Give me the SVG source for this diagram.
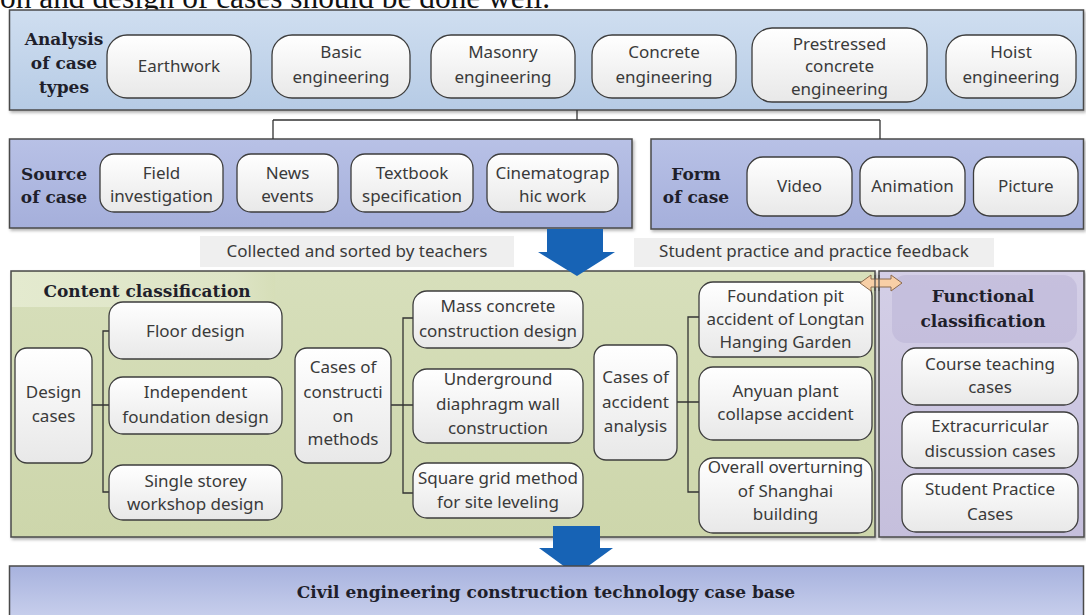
<svg xmlns="http://www.w3.org/2000/svg" width="1086" height="615" viewBox="0 0 1086 615">
<defs>
<linearGradient id="gPill" x1="0" y1="0" x2="0" y2="1"><stop offset="0" stop-color="#ffffff"/><stop offset="1" stop-color="#e8e8e8"/></linearGradient>
<linearGradient id="gTop" x1="0" y1="0" x2="0" y2="1"><stop offset="0" stop-color="#cfdef0"/><stop offset="1" stop-color="#b6cbe5"/></linearGradient>
<linearGradient id="gMid" x1="0" y1="0" x2="0" y2="1"><stop offset="0" stop-color="#b8c1e6"/><stop offset="1" stop-color="#a5afdb"/></linearGradient>
<linearGradient id="gGreen" x1="0" y1="0" x2="0" y2="1"><stop offset="0" stop-color="#d7dfbb"/><stop offset="1" stop-color="#cdd6ab"/></linearGradient>
<linearGradient id="gFunc" x1="0" y1="0" x2="0" y2="1"><stop offset="0" stop-color="#d4cfe7"/><stop offset="1" stop-color="#c5bfdc"/></linearGradient>
<linearGradient id="gBot" x1="0" y1="0" x2="0" y2="1"><stop offset="0" stop-color="#a7b2de"/><stop offset="1" stop-color="#c8cfec"/></linearGradient>
<linearGradient id="gBand" x1="0" y1="0" x2="1" y2="0"><stop offset="0" stop-color="#e4eacf"/><stop offset="0.85" stop-color="#dde4c5"/><stop offset="1" stop-color="#d6deb8"/></linearGradient>
<filter id="sh" x="-5%" y="-5%" width="110%" height="115%"><feDropShadow dx="1.5" dy="2" stdDeviation="1.5" flood-color="#000" flood-opacity="0.3"/></filter>
</defs>
<style>
.pill{fill:url(#gPill);stroke:#3d3d3d;stroke-width:1.3}
.t{font-family:"Noto Sans","Liberation Sans",sans-serif;font-size:17px;fill:#3a3a3a;text-anchor:middle}
.h{font-family:"DejaVu Serif","Liberation Serif",serif;font-weight:bold;font-size:17px;fill:#1f1f2b;text-anchor:middle}
.band{stroke:#4a4a4a;stroke-width:1.5}
.conn{stroke:#333;stroke-width:1.3;fill:none}
.arrow{fill:#1763b5}
.lblbg{fill:#efefef}
</style>

<text x="0" y="8" font-family="Liberation Serif, serif" font-size="31" fill="#111" textLength="550" lengthAdjust="spacingAndGlyphs">on and design of cases should be done well.</text>

<g id="case-types">
<rect class="band" x="9.5" y="10" width="1074" height="100" fill="url(#gTop)" filter="url(#sh)"/>
<text class="h"><tspan x="64" y="45">Analysis</tspan><tspan x="64" y="69">of case</tspan><tspan x="64" y="93">types</tspan></text>
</g>
<g id="earthwork"><rect class="pill" x="107" y="35" width="144" height="63" rx="20"/><text class="t" x="179" y="72">Earthwork</text></g>
<g id="basic"><rect class="pill" x="272" y="35" width="138" height="63" rx="20"/><text class="t"><tspan x="341" y="58">Basic</tspan><tspan x="341" y="83">engineering</tspan></text></g>
<g id="masonry"><rect class="pill" x="431" y="35" width="144" height="63" rx="20"/><text class="t"><tspan x="503" y="58">Masonry</tspan><tspan x="503" y="83">engineering</tspan></text></g>
<g id="concrete"><rect class="pill" x="592" y="35" width="144" height="63" rx="20"/><text class="t"><tspan x="664" y="58">Concrete</tspan><tspan x="664" y="83">engineering</tspan></text></g>
<g id="prestressed"><rect class="pill" x="752" y="28" width="175" height="74" rx="20"/><text class="t"><tspan x="839.5" y="50">Prestressed</tspan><tspan x="839.5" y="72">concrete</tspan><tspan x="839.5" y="95">engineering</tspan></text></g>
<g id="hoist"><rect class="pill" x="946" y="35" width="130" height="63" rx="20"/><text class="t"><tspan x="1011" y="58">Hoist</tspan><tspan x="1011" y="83">engineering</tspan></text></g>

<g id="source">
<rect class="band" x="9.5" y="139" width="622.5" height="89" fill="url(#gMid)" filter="url(#sh)"/>
<text class="h"><tspan x="54" y="180">Source</tspan><tspan x="54" y="203">of case</tspan></text>
</g>
<g id="field"><rect class="pill" x="100" y="154" width="123" height="58" rx="14"/><text class="t"><tspan x="161.5" y="179">Field</tspan><tspan x="161.5" y="202">investigation</tspan></text></g>
<g id="news"><rect class="pill" x="237" y="154" width="101" height="58" rx="14"/><text class="t"><tspan x="287.5" y="179">News</tspan><tspan x="287.5" y="202">events</tspan></text></g>
<g id="textbook"><rect class="pill" x="351" y="154" width="122" height="58" rx="14"/><text class="t"><tspan x="412" y="179">Textbook</tspan><tspan x="412" y="202">specification</tspan></text></g>
<g id="cinema"><rect class="pill" x="487" y="154" width="131" height="58" rx="14"/><text class="t"><tspan x="552.5" y="179">Cinematograp</tspan><tspan x="552.5" y="202">hic work</tspan></text></g>

<g id="form">
<rect class="band" x="651" y="139" width="432.5" height="90" fill="url(#gMid)" filter="url(#sh)"/>
<text class="h"><tspan x="696" y="180">Form</tspan><tspan x="696" y="203">of case</tspan></text>
</g>
<g id="video"><rect class="pill" x="747" y="157" width="105" height="59" rx="16"/><text class="t" x="799.5" y="192">Video</text></g>
<g id="animation"><rect class="pill" x="860" y="157" width="105" height="59" rx="16"/><text class="t" x="912.5" y="192">Animation</text></g>
<g id="picture"><rect class="pill" x="973.5" y="157" width="104.5" height="59" rx="16"/><text class="t" x="1025.75" y="192">Picture</text></g>

<g id="label-teachers"><rect class="lblbg" x="200" y="236" width="314" height="31"/><text class="t" x="357" y="257">Collected and sorted by teachers</text></g>
<g id="label-students"><rect class="lblbg" x="634" y="238" width="360" height="29"/><text class="t" x="814" y="257">Student practice and practice feedback</text></g>

<g id="content">
<rect class="band" x="11" y="271" width="864" height="266" fill="url(#gGreen)" filter="url(#sh)"/>
<rect x="12" y="272" width="263" height="35" fill="url(#gBand)"/>
<text class="h" x="147" y="297">Content classification</text>
</g>
<g id="functional">
<rect class="band" x="879" y="271" width="205" height="266" fill="url(#gFunc)" filter="url(#sh)"/>
<rect x="892" y="275" width="185" height="68" rx="14" fill="#bdb6d7" opacity="0.6"/>
<text class="h"><tspan x="983" y="302">Functional</tspan><tspan x="983" y="327">classification</tspan></text>
</g>

<g id="connectors">
<path class="conn" d="M577 110 V120 M273 120 H880 M273 120 V139 M880 120 V139"/>
<path class="conn" d="M92 405 H109 M109 331 H103 V492 H109"/>
<path class="conn" d="M391 405 H413 M413 318 H403 V493 H413"/>
<path class="conn" d="M677 402 H699 M699 317 H688 V492 H699"/>
</g>

<g id="design"><rect class="pill" x="15" y="348" width="77" height="115" rx="12"/><text class="t"><tspan x="53.5" y="398">Design</tspan><tspan x="53.5" y="422">cases</tspan></text></g>
<g id="floor"><rect class="pill" x="109" y="302" width="173" height="57" rx="14"/><text class="t" x="195.5" y="337">Floor design</text></g>
<g id="independent"><rect class="pill" x="109" y="377" width="173" height="57" rx="14"/><text class="t"><tspan x="195.5" y="398">Independent</tspan><tspan x="195.5" y="423">foundation design</tspan></text></g>
<g id="single"><rect class="pill" x="109" y="465" width="173" height="55" rx="14"/><text class="t"><tspan x="195.5" y="487">Single storey</tspan><tspan x="195.5" y="510">workshop design</tspan></text></g>

<g id="methods"><rect class="pill" x="295" y="348" width="96" height="115" rx="12"/><text class="t"><tspan x="343" y="373">Cases of</tspan><tspan x="343" y="398">constructi</tspan><tspan x="343" y="422">on</tspan><tspan x="343" y="445">methods</tspan></text></g>
<g id="mass"><rect class="pill" x="413" y="291" width="170" height="57" rx="14"/><text class="t"><tspan x="498" y="312">Mass concrete</tspan><tspan x="498" y="337">construction design</tspan></text></g>
<g id="underground"><rect class="pill" x="413" y="369" width="170" height="74" rx="14"/><text class="t"><tspan x="498" y="385">Underground</tspan><tspan x="498" y="410">diaphragm wall</tspan><tspan x="498" y="434">construction</tspan></text></g>
<g id="square"><rect class="pill" x="413" y="463" width="170" height="55" rx="14"/><text class="t"><tspan x="498" y="484">Square grid method</tspan><tspan x="498" y="508">for site leveling</tspan></text></g>

<g id="accident"><rect class="pill" x="594" y="345" width="83" height="115" rx="12"/><text class="t"><tspan x="635.5" y="383">Cases of</tspan><tspan x="635.5" y="408">accident</tspan><tspan x="635.5" y="432">analysis</tspan></text></g>
<g id="longtan"><rect class="pill" x="699" y="282" width="173" height="75" rx="14"/><text class="t"><tspan x="785.5" y="302">Foundation pit</tspan><tspan x="785.5" y="325">accident of Longtan</tspan><tspan x="785.5" y="348">Hanging Garden</tspan></text></g>
<g id="anyuan"><rect class="pill" x="699" y="367" width="173" height="73" rx="14"/><text class="t"><tspan x="785.5" y="397">Anyuan plant</tspan><tspan x="785.5" y="420">collapse accident</tspan></text></g>
<g id="shanghai"><rect class="pill" x="699" y="458" width="173" height="75" rx="14"/><text class="t"><tspan x="785.5" y="473">Overall overturning</tspan><tspan x="785.5" y="497">of Shanghai</tspan><tspan x="785.5" y="520">building</tspan></text></g>

<g id="course"><rect class="pill" x="902" y="348" width="176" height="57" rx="14"/><text class="t"><tspan x="990" y="370">Course teaching</tspan><tspan x="990" y="393">cases</tspan></text></g>
<g id="extra"><rect class="pill" x="902" y="412" width="176" height="56" rx="14"/><text class="t"><tspan x="990" y="432">Extracurricular</tspan><tspan x="990" y="457">discussion cases</tspan></text></g>
<g id="practice"><rect class="pill" x="902" y="474" width="176" height="58" rx="14"/><text class="t"><tspan x="990" y="495">Student Practice</tspan><tspan x="990" y="520">Cases</tspan></text></g>

<g id="feedback-arrow">
<polygon points="860,283 871,275 871,279 891,279 891,275 902,283 891,291 891,287 871,287 871,291" fill="#f8cfa6" stroke="#8a6a4e" stroke-width="1"/>
<path d="M875 275 V291 M879 275 V291" stroke="#4a4a4a" stroke-width="1.2"/>
</g>

<g id="flow-arrows">
<polygon class="arrow" points="547,229 603,229 603,252 615,252 577,276 538,252 547,252"/>
<polygon class="arrow" points="553,526 600,526 600,548 613,548 576,575 539,548 553,548"/>
</g>

<g id="case-base">
<rect class="band" x="9.5" y="566" width="1074" height="52" fill="url(#gBot)"/>
<text class="h" x="546" y="598" font-size="20">Civil engineering construction technology case base</text>
</g>
</svg>
